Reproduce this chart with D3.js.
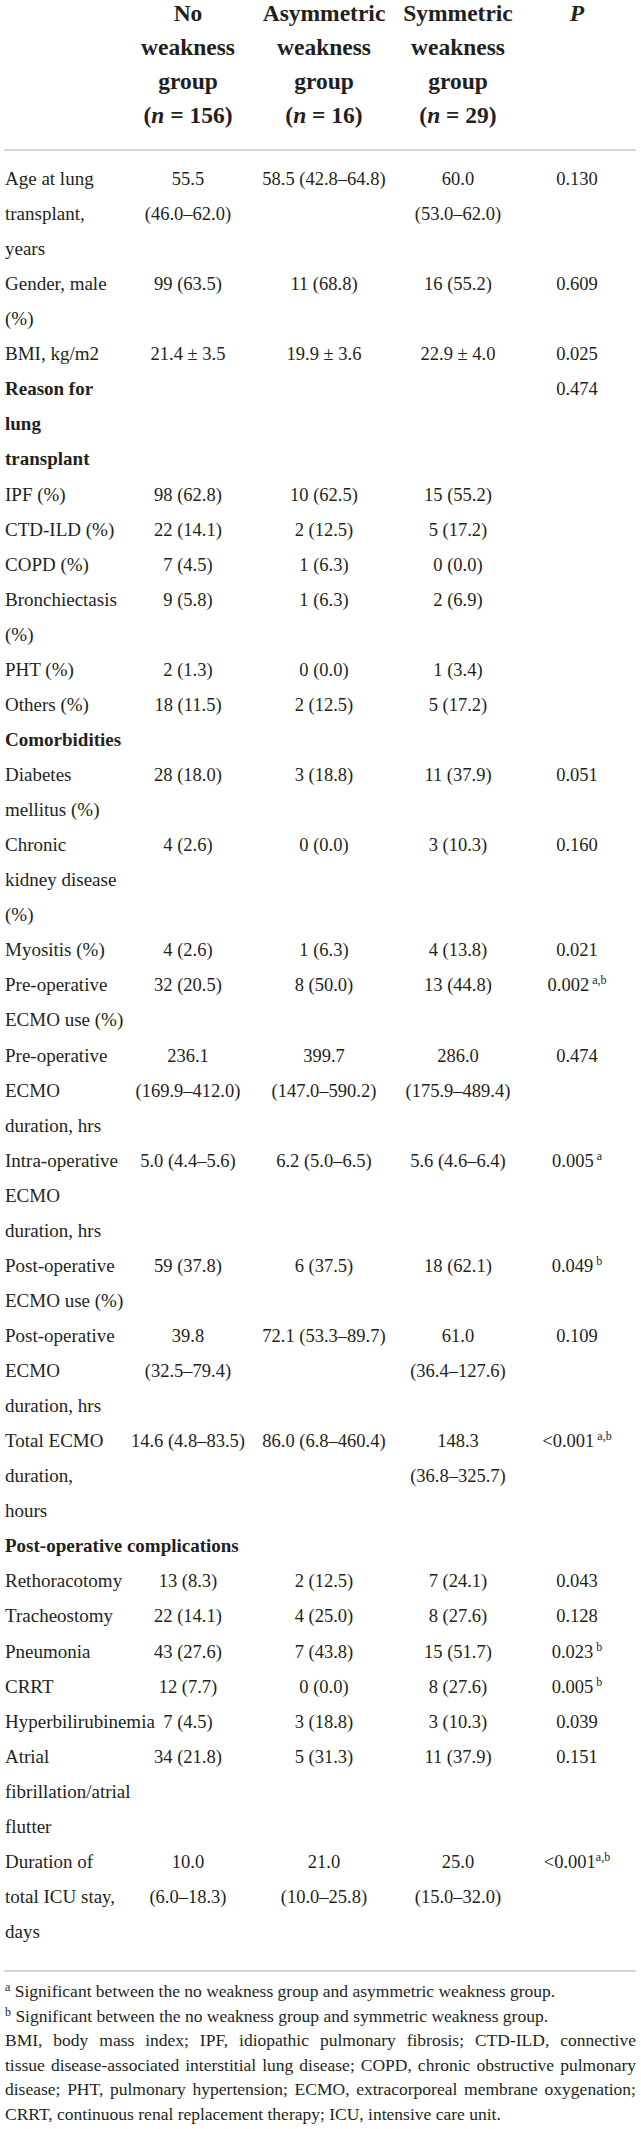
<!DOCTYPE html>
<html>
<head>
<meta charset="utf-8">
<script src="https://cdn.jsdelivr.net/npm/d3@7"></script>
<style>
  body { margin: 0; background: #fff; }
  text { font-family: "Liberation Serif", "Times New Roman", serif; fill: #231f20; }
</style>
</head>
<body>
<div id="table"></div>
<script>
// table content
const groups = ["No", "Asymmetric", "Symmetric"];
const groupN = ["156", "16", "29"];

const labels = [
  ["Age at lung", "transplant,", "years"],
  ["Gender, male", "(%)"],
  ["BMI, kg/m2"],
  ["Reason for", "lung", "transplant"],
  ["IPF (%)"],
  ["CTD-ILD (%)"],
  ["COPD (%)"],
  ["Bronchiectasis", "(%)"],
  ["PHT (%)"],
  ["Others (%)"],
  ["Comorbidities"],
  ["Diabetes", "mellitus (%)"],
  ["Chronic", "kidney disease", "(%)"],
  ["Myositis (%)"],
  ["Pre-operative", "ECMO use (%)"],
  ["Pre-operative", "ECMO", "duration, hrs"],
  ["Intra-operative", "ECMO", "duration, hrs"],
  ["Post-operative", "ECMO use (%)"],
  ["Post-operative", "ECMO", "duration, hrs"],
  ["Total ECMO", "duration,", "hours"],
  ["Post-operative complications"],
  ["Rethoracotomy"],
  ["Tracheostomy"],
  ["Pneumonia"],
  ["CRRT"],
  ["Hyperbilirubinemia"],
  ["Atrial", "fibrillation/atrial", "flutter"],
  ["Duration of", "total ICU stay,", "days"]
];
const sectionRows = [3, 10, 20];

const noWeakness = [
  ["55.5", "(46.0–62.0)"], ["99 (63.5)"], ["21.4 ± 3.5"], [],
  ["98 (62.8)"], ["22 (14.1)"], ["7 (4.5)"], ["9 (5.8)"], ["2 (1.3)"], ["18 (11.5)"], [],
  ["28 (18.0)"], ["4 (2.6)"], ["4 (2.6)"], ["32 (20.5)"], ["236.1", "(169.9–412.0)"],
  ["5.0 (4.4–5.6)"], ["59 (37.8)"], ["39.8", "(32.5–79.4)"], ["14.6 (4.8–83.5)"], [],
  ["13 (8.3)"], ["22 (14.1)"], ["43 (27.6)"], ["12 (7.7)"], ["7 (4.5)"], ["34 (21.8)"],
  ["10.0", "(6.0–18.3)"]
];
const asymWeakness = [
  ["58.5 (42.8–64.8)"], ["11 (68.8)"], ["19.9 ± 3.6"], [],
  ["10 (62.5)"], ["2 (12.5)"], ["1 (6.3)"], ["1 (6.3)"], ["0 (0.0)"], ["2 (12.5)"], [],
  ["3 (18.8)"], ["0 (0.0)"], ["1 (6.3)"], ["8 (50.0)"], ["399.7", "(147.0–590.2)"],
  ["6.2 (5.0–6.5)"], ["6 (37.5)"], ["72.1 (53.3–89.7)"], ["86.0 (6.8–460.4)"], [],
  ["2 (12.5)"], ["4 (25.0)"], ["7 (43.8)"], ["0 (0.0)"], ["3 (18.8)"], ["5 (31.3)"],
  ["21.0", "(10.0–25.8)"]
];
const symWeakness = [
  ["60.0", "(53.0–62.0)"], ["16 (55.2)"], ["22.9 ± 4.0"], [],
  ["15 (55.2)"], ["5 (17.2)"], ["0 (0.0)"], ["2 (6.9)"], ["1 (3.4)"], ["5 (17.2)"], [],
  ["11 (37.9)"], ["3 (10.3)"], ["4 (13.8)"], ["13 (44.8)"], ["286.0", "(175.9–489.4)"],
  ["5.6 (4.6–6.4)"], ["18 (62.1)"], ["61.0", "(36.4–127.6)"], ["148.3", "(36.8–325.7)"], [],
  ["7 (24.1)"], ["8 (27.6)"], ["15 (51.7)"], ["8 (27.6)"], ["3 (10.3)"], ["11 (37.9)"],
  ["25.0", "(15.0–32.0)"]
];
const pValues = [
  "0.130", "0.609", "0.025", "0.474", "", "", "", "", "", "", "",
  "0.051", "0.160", "0.021", "0.002", "0.474", "0.005", "0.049", "0.109", "<0.001", "",
  "0.043", "0.128", "0.023", "0.005", "0.039", "0.151", "<0.001"
];
const pNotes = [
  "", "", "", "", "", "", "", "", "", "", "",
  "", "", "", " a,b", "", " a", " b", "", " a,b", "",
  "", "", " b", " b", "", "", "a,b"
];

const footMarks = ["a", "b"];
const footNotes = [
  " Significant between the no weakness group and asymmetric weakness group.",
  " Significant between the no weakness group and symmetric weakness group."
];
const abbrevLines = [
  "BMI, body mass index; IPF, idiopathic pulmonary fibrosis; CTD-ILD, connective",
  "tissue disease-associated interstitial lung disease; COPD, chronic obstructive pulmonary",
  "disease; PHT, pulmonary hypertension; ECMO, extracorporeal membrane oxygenation;",
  "CRRT, continuous renal replacement therapy; ICU, intensive care unit."
];

// set the dimensions of the page
const width = 641, height = 2129;

const svg = d3.select("#table")
  .append("svg")
    .attr("width", width)
    .attr("height", height);

// columns
const columns = ["label", "no", "asym", "sym", "p"];
const x = d3.scaleOrdinal()
  .domain(columns)
  .range([5, 188, 324, 458, 577]);

// line index -> baseline
const nLines = 50;
const y = d3.scaleLinear()
  .domain([0, nLines])
  .range([185, 1938]);
const yHead = d3.scaleLinear()
  .domain([0, 3])
  .range([21, 123]);

// rule lines
const ruleX = d3.scaleLinear().domain([0, 1]).range([4, 636]);
svg.selectAll(".rule")
  .data([150, 1971])
  .enter()
  .append("line")
    .attr("class", "rule")
    .attr("x1", ruleX(0))
    .attr("x2", ruleX(1))
    .attr("y1", d => d)
    .attr("y2", d => d)
    .style("stroke", "#c9c9c9")
    .style("stroke-width", 1.5);

// header
const head = svg.append("g")
  .style("font-size", "23.5px")
  .style("font-weight", "bold");

groups.forEach(function(g, i) {
  const cx = x(columns[i + 1]);
  [g, "weakness", "group"].forEach(function(t, j) {
    head.append("text")
      .attr("x", cx)
      .attr("y", yHead(j))
      .attr("text-anchor", "middle")
      .text(t);
  });
  const nt = head.append("text")
    .attr("x", cx)
    .attr("y", yHead(3))
    .attr("text-anchor", "middle");
  nt.append("tspan").text("(");
  nt.append("tspan").style("font-style", "italic").text("n");
  nt.append("tspan").text(" = " + groupN[i] + ")");
});
head.append("text")
  .attr("x", x("p"))
  .attr("y", yHead(0))
  .attr("text-anchor", "middle")
  .style("font-style", "italic")
  .text("P");

// body rows
const body = svg.append("g").style("font-size", "18.5px");
let start = 0;
labels.forEach(function(lab, r) {
  const cells = [noWeakness[r], asymWeakness[r], symWeakness[r]];
  const span = d3.max([lab.length].concat(cells.map(c => c.length)));

  lab.forEach(function(t, j) {
    body.append("text")
      .attr("x", x("label"))
      .attr("y", y(start + j))
      .style("font-size", "19px")
      .style("font-weight", sectionRows.includes(r) ? "bold" : null)
      .text(t);
  });

  cells.forEach(function(c, k) {
    c.forEach(function(t, j) {
      body.append("text")
        .attr("x", x(columns[k + 1]))
        .attr("y", y(start + j))
        .attr("text-anchor", "middle")
        .text(t);
    });
  });

  if (pValues[r]) {
    const pt = body.append("text")
      .attr("x", x("p"))
      .attr("y", y(start))
      .attr("text-anchor", "middle");
    pt.append("tspan").text(pValues[r]);
    if (pNotes[r]) {
      pt.append("tspan")
        .attr("dy", -7)
        .style("font-size", "12px")
        .text(pNotes[r]);
    }
  }
  start += span;
});

// footnotes
const fy = d3.scaleLinear().domain([0, 5]).range([1997, 2120]);
const foot = svg.append("g").style("font-size", "17.5px");
footNotes.forEach(function(t, i) {
  const ft = foot.append("text")
    .attr("x", x("label"))
    .attr("y", fy(i));
  ft.append("tspan")
    .attr("dy", -6)
    .style("font-size", "12px")
    .text(footMarks[i]);
  ft.append("tspan")
    .attr("dy", 6)
    .text(t);
});

abbrevLines.forEach(function(t, i) {
  const at = foot.append("text")
    .attr("x", x("label"))
    .attr("y", fy(i + 2))
    .text(t);
  // justify every line except the last
  if (i < abbrevLines.length - 1) {
    const natural = at.node().getComputedTextLength();
    const gaps = t.split(" ").length - 1;
    at.style("word-spacing", ((ruleX(1) - x("label") - natural) / gaps) + "px");
  }
});
</script>
</body>
</html>
